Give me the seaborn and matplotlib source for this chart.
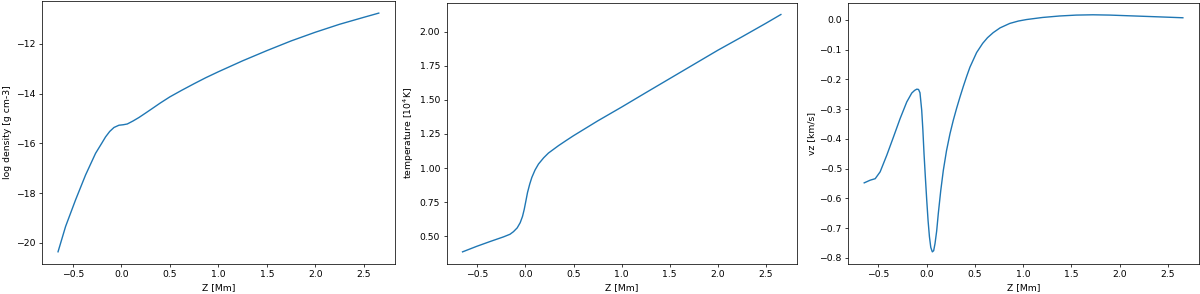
import matplotlib
matplotlib.use("Agg")
import matplotlib.pyplot as plt
import seaborn as sns

# values
z_rho = [-0.653, -0.575, -0.472, -0.369, -0.266, -0.2, -0.163, -0.12, -0.076, -0.025,
         0.02, 0.061, 0.12, 0.181, 0.25, 0.318, 0.4, 0.5, 0.62, 0.75, 0.87, 1.0,
         1.25, 1.5, 1.75, 2.0, 2.25, 2.5, 2.655]
log_rho = [-20.36, -19.34, -18.27, -17.27, -16.4, -15.98, -15.74, -15.52, -15.36, -15.27,
           -15.25, -15.22, -15.1, -14.96, -14.78, -14.6, -14.38, -14.13, -13.87, -13.6, -13.36, -13.12,
           -12.68, -12.27, -11.88, -11.53, -11.21, -10.93, -10.76]

z_temp = [-0.653, -0.504, -0.366, -0.227, -0.16, -0.124, -0.085, -0.054, -0.03, -0.012,
          0.005, 0.022, 0.045, 0.067, 0.1, 0.136, 0.19, 0.24, 0.344, 0.42, 0.5,
          0.75, 1.0, 1.25, 1.5, 1.75, 2.0, 2.25, 2.5, 2.655]
temp = [0.385, 0.426, 0.461, 0.495, 0.514, 0.533, 0.561, 0.599, 0.645, 0.697,
        0.758, 0.82, 0.882, 0.931, 0.985, 1.029, 1.075, 1.11, 1.164, 1.2, 1.237,
        1.345, 1.447, 1.552, 1.656, 1.76, 1.864, 1.962, 2.062, 2.126]

z_vz = [-0.648, -0.586, -0.534, -0.483, -0.414, -0.345, -0.276, -0.207, -0.155,
        -0.125, -0.103, -0.085, -0.07, -0.052, -0.04, -0.028, -0.014, 0.0, 0.014,
        0.028, 0.042, 0.058, 0.072, 0.086, 0.103, 0.12, 0.145, 0.172, 0.205,
        0.241, 0.275, 0.31, 0.345, 0.379, 0.415, 0.448, 0.517, 0.58, 0.63, 0.689,
        0.76, 0.861, 0.95, 1.034, 1.2, 1.378, 1.55, 1.723, 1.9, 2.068, 2.24,
        2.41, 2.655]
vz = [-0.548, -0.539, -0.534, -0.511, -0.455, -0.394, -0.332, -0.276, -0.246,
      -0.237, -0.233, -0.234, -0.245, -0.304, -0.37, -0.45, -0.53, -0.606, -0.675,
      -0.729, -0.765, -0.78, -0.776, -0.752, -0.71, -0.651, -0.575, -0.506, -0.44,
      -0.383, -0.338, -0.297, -0.259, -0.224, -0.189, -0.159, -0.11, -0.079, -0.06, -0.043,
      -0.027, -0.012, -0.004, 0.001, 0.008, 0.013, 0.016, 0.017, 0.016, 0.014, 0.012,
      0.010, 0.007]

fig = plt.figure(figsize=(18, 4.41), dpi=200 / 3)

ax1 = fig.add_axes([0.035, 0.103, 0.294, 0.893])
ax2 = fig.add_axes([0.3722, 0.103, 0.2918, 0.888])
ax3 = fig.add_axes([0.7069, 0.103, 0.2921, 0.887])

sns.lineplot(x=z_rho, y=log_rho, ax=ax1)
ax1.set_xlabel("Z [Mm]")
ax1.set_ylabel("log density [g cm-3]")

sns.lineplot(x=z_temp, y=temp, ax=ax2)
ax2.set_xlabel("Z [Mm]")
ax2.set_ylabel("temperature [10$^4$K]")

sns.lineplot(x=z_vz, y=vz, ax=ax3)
ax3.set_xlabel("Z [Mm]")
ax3.set_ylabel("vz [km/s]")

fig.savefig("out.png", dpi=200 / 3)
